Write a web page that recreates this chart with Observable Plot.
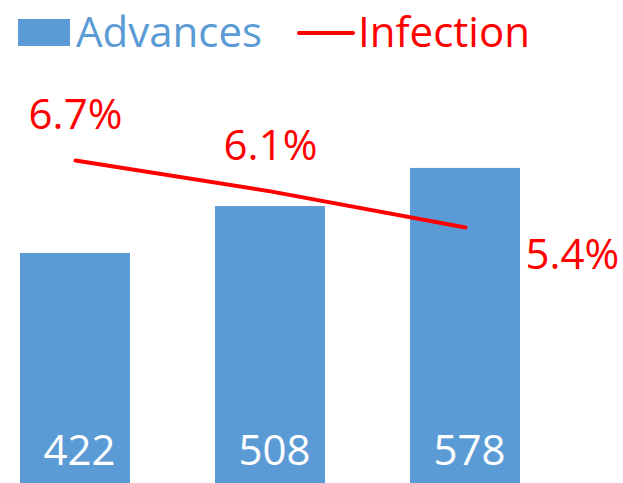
<!DOCTYPE html>
<html>
<head>
<meta charset="utf-8">
<script src="https://cdn.jsdelivr.net/npm/d3@7"></script>
<script src="https://cdn.jsdelivr.net/npm/@observablehq/plot@0.6"></script>
<style>
  body { margin: 0; background: #fff; font-family: "Open Sans", sans-serif; }
  #legend { position: relative; width: 623px; height: 60px; }
  #legend .sw { position: absolute; }
  #legend .lbl { position: absolute; font-size: 42px; line-height: 1; white-space: nowrap; }
  #chart svg { display: block; }
</style>
</head>
<body>
<div id="legend">
  <div class="sw" style="left:18px;top:19px;width:52px;height:27px;background:#5B9BD5"></div>
  <div class="lbl" style="left:76px;top:10px;color:#5B9BD5">Advances</div>
  <svg class="sw" style="left:296px;top:28px" width="60" height="10"><line x1="3" y1="5" x2="57" y2="5" stroke="#FF0000" stroke-width="4" stroke-linecap="round"/></svg>
  <div class="lbl" style="left:358px;top:10px;color:#FF0000">Infection</div>
</div>
<div id="chart"></div>
<script>
const categories = ["Period 1", "Period 2", "Period 3"];
const advances = [422, 508, 578];
const infection = [6.7, 6.1, 5.4];
const infectionLabels = ["6.7%", "6.1%", "5.4%"];

const data = categories.map((c, i) => ({
  cat: c, adv: advances[i], inf: infection[i], infLabel: infectionLabels[i]
}));

// secondary axis for the infection rate, mapped onto the primary (advances) axis
const secondary = d3.scaleLinear().domain([0.43, 8.64]).range([0, 776]);

const blue = "#5B9BD5";
const red = "#FF0000";

const chart = Plot.plot({
  width: 623,
  height: 423,
  marginLeft: 0,
  marginRight: 83,
  marginTop: 0,
  marginBottom: 0,
  style: { fontFamily: "'Open Sans', sans-serif", background: "#fff" },
  x: { type: "band", domain: categories, paddingInner: 0.436, paddingOuter: 0.1, axis: null },
  y: { domain: [0, 776], axis: null },
  marks: [
    Plot.barY(data, { x: "cat", y: "adv", fill: blue }),
    Plot.text(data, { x: "cat", y: 0, text: d => String(d.adv), fill: "white", fontSize: 42, dx: 4, dy: -19, lineAnchor: "bottom" }),
    Plot.line(data, { x: "cat", y: d => secondary(d.inf), stroke: red, strokeWidth: 4, strokeLinecap: "round" }),
    Plot.text(data.slice(0, 2), { x: "cat", y: d => secondary(d.inf), text: "infLabel", fill: red, fontSize: 42, lineAnchor: "bottom", dy: -31 }),
    Plot.text(data.slice(2), { x: "cat", y: d => secondary(d.inf), text: "infLabel", fill: red, fontSize: 42, textAnchor: "start", lineAnchor: "middle", dx: 60, dy: 28 })
  ]
});
document.getElementById("chart").appendChild(chart);
</script>
</body>
</html>
